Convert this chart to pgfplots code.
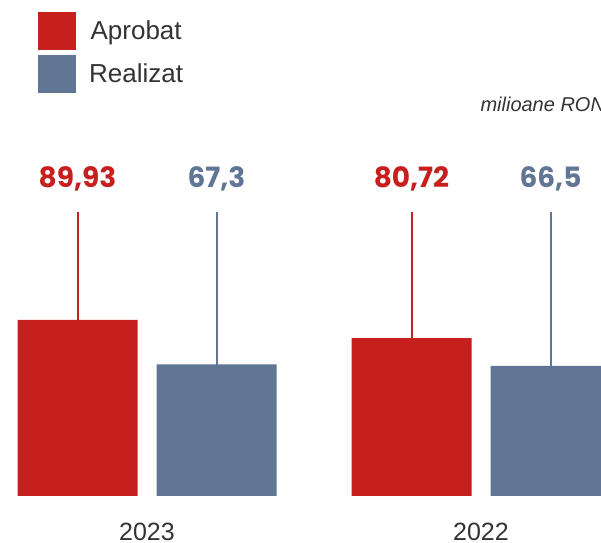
\documentclass[border=0pt]{standalone}
\usepackage{pgfplots}
\pgfplotsset{compat=1.18}
\usepackage{fontspec}
\setmainfont{Liberation Sans}
\newfontfamily\valfont{Poppins}
\definecolor{aprobat}{HTML}{C61F1D}
\definecolor{realizat}{HTML}{617595}
\definecolor{txt}{HTML}{333333}
\pgfplotsset{sqlegend/.style={legend image code/.code={\fill[##1] (0bp,-9.6bp) rectangle (38bp,28.4bp);}}}

\begin{document}
\begin{tikzpicture}
\useasboundingbox (0,0) rectangle (601bp,543bp);
\clip (0,0) rectangle (601bp,543bp);
\begin{axis}[
    at={(0bp,47bp)}, anchor=south west,
    width=601bp, height=496bp, scale only axis,
    xmin=-0.44012, xmax=1.35928,
    ymin=0, ymax=253.44,
    clip=false,
    axis line style={draw=none},
    major tick length=0pt,
    ytick=\empty,
    xtick={0,1}, xticklabels={2023,2022},
    xticklabel style={font=\fontsize{25bp}{30bp}\selectfont, text=txt, anchor=base, yshift=-44bp},
    legend style={at={(axis description cs:0.0632,0.9758)}, anchor=north west,
        draw=none, fill=none, inner sep=0pt, row sep=5bp, column sep=13bp,
        font=\fontsize{26bp}{30bp}\selectfont, text=txt, nodes={inner sep=0pt, yshift=9.5bp}},
]
% thin lines from the label down (the bars cover their lower part)
\addplot[ycomb, color=aprobat, line width=2bp, mark=none, forget plot]
    coordinates {(-0.20808,145.1) (0.79192,145.1)};
\addplot[ycomb, color=realizat, line width=2bp, mark=none, forget plot]
    coordinates {(0.20808,145.1) (1.20808,145.1)};
% bars (red left of each year, blue right)
\addplot[ybar, bar width=120bp, bar shift=0pt, fill=aprobat, draw=none, sqlegend]
    coordinates {(-0.20808,89.93) (0.79192,80.72)};
\addlegendentry{Aprobat}
\addplot[ybar, bar width=120bp, bar shift=0pt, fill=realizat, draw=none, sqlegend]
    coordinates {(0.20808,67.3) (1.20808,66.5)};
\addlegendentry{Realizat}
% value labels
\addplot[draw=none, forget plot, nodes near coords, point meta=explicit symbolic,
    nodes near coords style={anchor=base, text=aprobat,
        font=\valfont\bfseries\fontsize{28bp}{30bp}\selectfont}]
    coordinates {(-0.20808,157.4) [89,93] (0.79192,157.4) [80,72]};
\addplot[draw=none, forget plot, nodes near coords, point meta=explicit symbolic,
    nodes near coords style={anchor=base, text=realizat,
        font=\valfont\bfseries\fontsize{28bp}{30bp}\selectfont}]
    coordinates {(0.20808,157.4) [67,3] (1.20808,157.4) [66,5]};
\end{axis}
\node[anchor=base west, font=\itshape\fontsize{20bp}{24bp}\selectfont, text=txt]
    at (477bp,431bp) {milioane RON};
\end{tikzpicture}
\end{document}
